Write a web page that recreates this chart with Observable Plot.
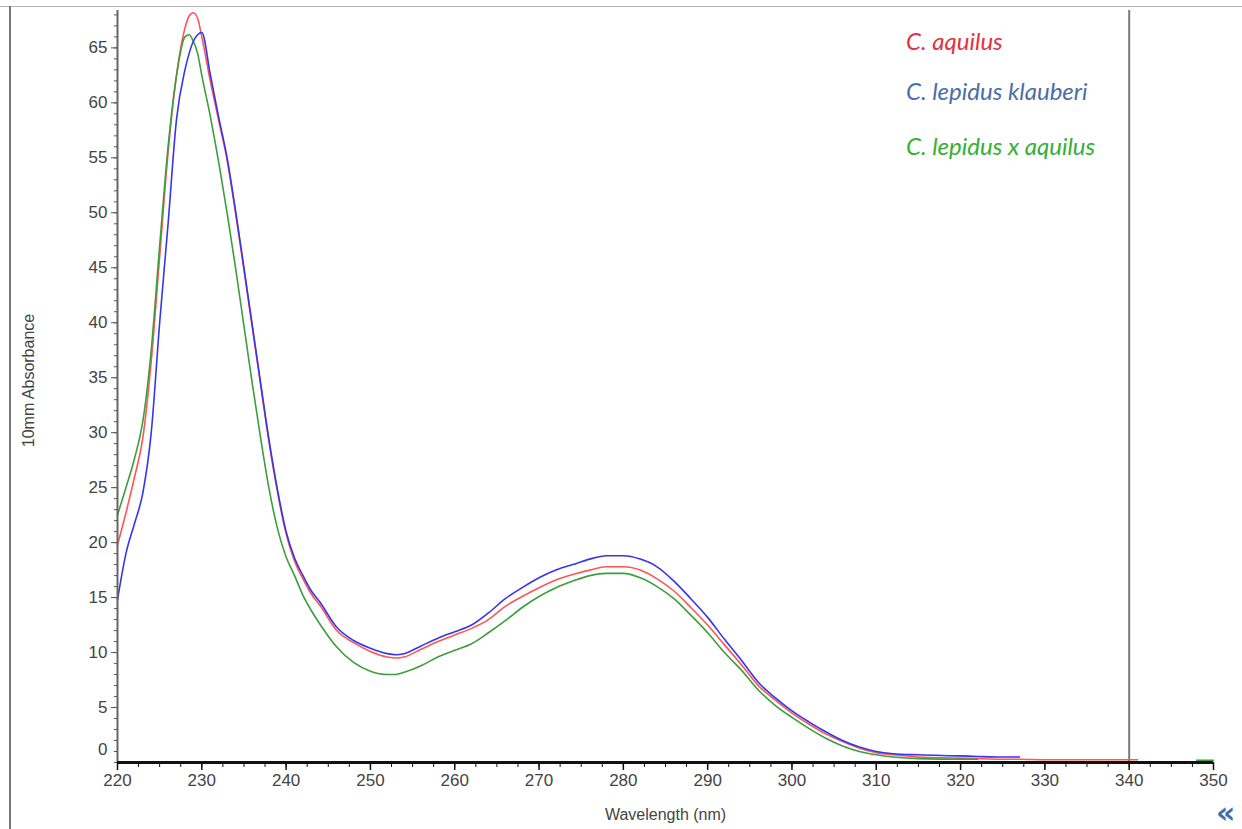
<!DOCTYPE html>
<html>
<head>
<meta charset="utf-8">
<script src="https://cdn.jsdelivr.net/npm/d3@7"></script>
<script src="https://cdn.jsdelivr.net/npm/@observablehq/plot@0.6"></script>
<style>
  html, body { margin: 0; padding: 0; background: #fff; overflow: hidden; }
  #wrap { position: relative; width: 1242px; height: 829px; }
  #wrap svg { position: absolute; left: 0; top: 0; }
  .border-top { position: absolute; left: 0; top: 6px; width: 1242px; height: 1px; background: #b5b5b5; }
  .border-left { position: absolute; left: 9px; top: 6px; width: 2px; height: 823px; background: #777; }
  .legend-item { position: absolute; left: 906px; font-family: Lato, "Open Sans", sans-serif; font-style: italic; font-size: 24px; line-height: 24px; white-space: nowrap; }
  .corner { position: absolute; left: 1216px; top: 798px; font-family: "DejaVu Sans", sans-serif; font-weight: bold; font-size: 30px; color: #3d6fb5; line-height: 30px; }
</style>
</head>
<body>
<div id="wrap">
  <div class="border-top"></div>
  <div class="border-left"></div>
</div>
<script>
// ---- data ----
const wavelengths = [220,221,222,223,224,225,226,227,228,228.5,229,229.5,230,231,232,233,234,235,236,237,238,239,240,241,242,243,244,246,248,250,252,253,254,256,258,260,262,264,266,268,270,272,274,276,278,280,282,284,286,288,290,292,294,296,298,300,302,304,306,308,310,312,315,320,322,325,327,330,335,341,348,350];
const aquilus  = [19.8,22.7,25.9,29.5,36.5,46.0,55.5,62.5,66.8,67.9,68.2,67.7,66.0,62.0,58.4,54.8,50.0,44.8,39.5,34.2,29.0,24.5,20.8,18.3,16.7,15.3,14.3,12.0,10.9,10.1,9.6,9.5,9.6,10.3,11.0,11.6,12.2,13.0,14.2,15.1,15.9,16.6,17.1,17.5,17.8,17.8,17.5,16.7,15.6,14.1,12.5,10.7,8.9,7.0,5.7,4.5,3.5,2.6,1.9,1.3,0.9,0.7,0.5,0.4,0.35,0.3,0.3,0.25,0.25,0.25,null,null];
const klauberi = [14.8,19.0,21.7,24.5,30.0,40.0,49.0,58.5,63.0,64.5,65.6,66.2,66.4,62.6,58.7,55.0,50.2,45.0,39.7,34.4,29.2,24.7,21.0,18.6,17.0,15.6,14.6,12.3,11.1,10.4,9.9,9.8,9.9,10.6,11.3,11.9,12.5,13.6,14.9,15.9,16.8,17.5,18.0,18.5,18.8,18.8,18.5,17.8,16.5,14.9,13.2,11.2,9.3,7.3,5.9,4.7,3.7,2.8,2.0,1.4,1.0,0.8,0.7,0.6,0.55,0.5,0.5,null,null,null,null,null];
const hybrid   = [22.5,25.0,27.6,31.0,37.5,47.0,56.0,62.5,66.0,66.2,65.6,64.5,62.5,58.8,54.6,50.0,45.0,39.7,34.4,29.4,24.8,21.2,18.7,17.0,15.2,13.8,12.6,10.5,9.1,8.3,8.0,8.0,8.2,8.8,9.6,10.2,10.8,11.8,12.9,14.1,15.1,15.9,16.5,17.0,17.2,17.2,16.8,16.0,14.9,13.4,11.8,10.0,8.4,6.6,5.2,4.1,3.1,2.2,1.5,1.0,0.7,0.5,0.35,0.3,0.3,null,null,null,null,null,0.2,0.2];

const seriesNames  = ["C. aquilus", "C. lepidus klauberi", "C. lepidus x aquilus"];
const seriesValues = [aquilus, klauberi, hybrid];
const lineColors   = ["#ff5555", "#3535f0", "#3c9e3c"];
const legendColors = ["#e2323e", "#4a6fa8", "#34b034"];

const yTickLabels = [5,10,15,20,25,30,35,40,45,50,55,60,65];
const yZeroLabel = [0];
const yMinorTicks = d3.range(0, 69, 1);
const xTickLabels = [220,230,240,250,260,270,280,290,300,310,320,330,340,350];
const xMinorTicks = d3.range(220, 350.1, 2.5);
const cursorWavelength = [340];
const xTitle = "Wavelength (nm)";
const yTitle = "10mm Absorbance";

// ---- tidy table ----
const drawOrder = [0, 2, 1];
const rows = drawOrder.flatMap(i => wavelengths.map((w, j) => ({
  wl: w,
  value: seriesValues[i][j] == null ? NaN : seriesValues[i][j],
  series: seriesNames[i]
})));

const axisFont = "'Liberation Sans', Arial, sans-serif";

const chart = Plot.plot({
  width: 1242,
  height: 829,
  marginLeft: 117,
  marginRight: 29,
  marginTop: 10,
  marginBottom: 67,
  style: { fontFamily: axisFont, fontSize: "17px", color: "#444", background: "transparent" },
  x: { domain: [220, 350], axis: null },
  y: { domain: [0, 68.4], axis: null },
  color: { domain: seriesNames, range: lineColors },
  marks: [
    Plot.ruleX(cursorWavelength, { stroke: "#7a7a7a", strokeWidth: 2 }),
    Plot.line(rows, { x: "wl", y: "value", z: "series", stroke: "series", curve: "monotone-x", strokeWidth: 1.6 }),
    Plot.axisY(yMinorTicks, { tickSize: 3, tickFormat: () => "", label: null, stroke: "#555" }),
    Plot.axisY(yTickLabels, { tickSize: 6, tickPadding: 4, label: null, fontSize: 17, fill: "#444", stroke: "#555" }),
    Plot.axisY(yZeroLabel, { tickSize: 0, tickPadding: 10, dy: -13, label: null, fontSize: 17, fill: "#444" }),
    Plot.ruleX([220], { stroke: "#666", strokeWidth: 2 }),
    Plot.axisX(xMinorTicks, { tickSize: 5, tickFormat: () => "", label: null, stroke: "#111" }),
    Plot.axisX(xTickLabels, { tickSize: 8, tickPadding: 3, label: null, fontSize: 17, fill: "#444", stroke: "#111", strokeWidth: 1.5 }),
    Plot.ruleY([0], { stroke: "#111", strokeWidth: 3 }),
    Plot.text([xTitle], { frameAnchor: "bottom", dy: 57, fontSize: 16, fill: "#444" }),
    Plot.text([yTitle], { frameAnchor: "left", textAnchor: "middle", rotate: -90, dx: -89, dy: -6, fontSize: 16, fill: "#444" })
  ]
});

const wrap = document.getElementById("wrap");
wrap.insertBefore(chart, wrap.firstChild);

// legend (text-only, coloured like the reference)
const legendTops = [29, 79, 134];
seriesNames.forEach((name, i) => {
  const d = document.createElement("div");
  d.className = "legend-item";
  d.style.top = legendTops[i] + "px";
  d.style.color = legendColors[i];
  d.textContent = name;
  wrap.appendChild(d);
});

const corner = document.createElement("div");
corner.className = "corner";
corner.textContent = "«";
wrap.appendChild(corner);
</script>
</body>
</html>
